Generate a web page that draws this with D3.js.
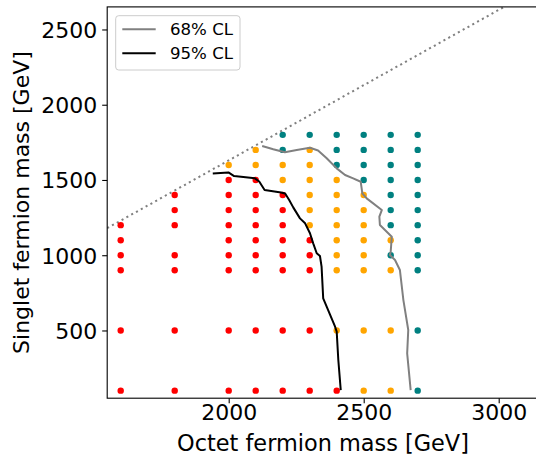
<!DOCTYPE html>
<html>
<head>
<meta charset="utf-8">
<script src="https://cdn.jsdelivr.net/npm/d3@7"></script>
<style>
  html, body { margin: 0; padding: 0; background: #fff; }
  svg { display: block; font-family: "DejaVu Sans", sans-serif; }
</style>
</head>
<body>
<svg id="chart" width="536" height="457"></svg>
<script>
// Scan grid: octet masses (columns) and singlet masses (rows), in GeV
const octetMasses = [1600, 1800, 2000, 2100, 2200, 2300, 2400, 2500, 2600, 2700];
const singletMasses = [100, 500, 900, 1000, 1100, 1200, 1300, 1400, 1500, 1600, 1700, 1800];

// Status of each scan point, one string per octet column, one character per singlet row
// R = excluded at 95% CL, O = excluded at 68% CL, A = allowed, . = not simulated
const pointStatus = [
  "RRRRRR......", // 1600
  "RRRR.RRR....", // 1800
  "RRRRRRRRRO..", // 2000
  "RRRRRRRRROO.", // 2100
  "RRRRRRRROOAA", // 2200
  "RRRRROOOOOOA", // 2300
  "ROOOOOOOOAAA", // 2400
  "OOOOOOOOAAAA", // 2500
  "OOOAOAAAAAAA", // 2600
  "AAAAAAAAAAAA"  // 2700
];
const statusColors = { R: "red", O: "orange", A: "teal" };

// Exclusion contours [octet, singlet]
const contour68 = [
  [2124, 1726], [2165, 1704], [2208, 1684], [2252, 1699], [2301, 1714], [2331, 1696],
  [2363, 1644], [2400, 1577], [2431, 1533], [2461, 1511], [2489, 1488], [2495, 1411],
  [2511, 1378], [2567, 1300], [2558, 1256], [2560, 1201], [2604, 1123], [2600, 1023],
  [2597, 1001], [2616, 968], [2634, 902], [2647, 702], [2665, 503], [2661, 348], [2674, 104]
];
const contour95 = [
  [1941, 1543], [1999, 1550], [2020, 1526], [2097, 1511], [2113, 1490], [2133, 1433],
  [2194, 1417], [2209, 1410], [2224, 1367], [2239, 1318], [2264, 1245], [2283, 1212],
  [2301, 1146], [2313, 1079], [2326, 1013], [2338, 995], [2344, 924], [2350, 714],
  [2394, 525], [2400, 492], [2406, 304], [2415, 104]
];

// Kinematic boundary: singlet = octet - massGap
const massGap = 370;

const xTicks = [2000, 2500, 3000];
const yTicks = [500, 1000, 1500, 2000, 2500];
const xDomain = [1550, 3150];
const yDomain = [50, 2650];

const legendEntries = [
  { label: "68% CL", color: "gray" },
  { label: "95% CL", color: "black" }
];

const svg = d3.select("#chart");
const plot = { left: 107.2, right: 539.2, top: 6.9, bottom: 398.2 };

const x = d3.scaleLinear().domain(xDomain).range([plot.left, plot.right]);
const y = d3.scaleLinear().domain(yDomain).range([plot.bottom, plot.top]);

svg.append("defs").append("clipPath").attr("id", "plot-clip")
  .append("rect")
  .attr("x", plot.left).attr("y", plot.top)
  .attr("width", plot.right - plot.left).attr("height", plot.bottom - plot.top);

const body = svg.append("g").attr("clip-path", "url(#plot-clip)");

// Dotted boundary line
body.append("line")
  .attr("x1", x(xDomain[0])).attr("y1", y(xDomain[0] - massGap))
  .attr("x2", x(xDomain[1])).attr("y2", y(xDomain[1] - massGap))
  .attr("stroke", "gray")
  .attr("stroke-width", 2)
  .attr("stroke-dasharray", "2.1,3.4");

// Scan points
const points = [];
octetMasses.forEach((m8, i) => {
  singletMasses.forEach((m1, j) => {
    const s = pointStatus[i][j];
    if (s !== ".") points.push({ octet: m8, singlet: m1, status: s });
  });
});

body.selectAll("circle.pt")
  .data(points)
  .enter().append("circle")
  .attr("class", "pt")
  .attr("cx", d => x(d.octet))
  .attr("cy", d => y(d.singlet))
  .attr("r", 3.2)
  .attr("fill", d => statusColors[d.status]);

// Contours
const line = d3.line().x(d => x(d[0])).y(d => y(d[1]));
body.append("path").datum(contour68)
  .attr("d", line).attr("fill", "none")
  .attr("stroke", "gray").attr("stroke-width", 2).attr("stroke-linejoin", "round");
body.append("path").datum(contour95)
  .attr("d", line).attr("fill", "none")
  .attr("stroke", "black").attr("stroke-width", 2).attr("stroke-linejoin", "round");

// Axes frame
svg.append("rect")
  .attr("x", plot.left).attr("y", plot.top)
  .attr("width", plot.right - plot.left).attr("height", plot.bottom - plot.top)
  .attr("fill", "none").attr("stroke", "black").attr("stroke-width", 1.1);

const xAxis = svg.append("g")
  .attr("transform", `translate(0,${plot.bottom})`)
  .call(d3.axisBottom(x).tickValues(xTicks).tickFormat(d3.format("d")).tickSize(5).tickSizeOuter(0));
xAxis.select(".domain").remove();
xAxis.selectAll("line").attr("stroke", "black").attr("stroke-width", 1.1);
xAxis.selectAll("text")
  .attr("y", 22).attr("dy", 0)
  .attr("font-size", 22).attr("font-family", "DejaVu Sans").attr("fill", "black");

const yAxis = svg.append("g")
  .attr("transform", `translate(${plot.left},0)`)
  .call(d3.axisLeft(y).tickValues(yTicks).tickFormat(d3.format("d")).tickSize(5).tickSizeOuter(0));
yAxis.select(".domain").remove();
yAxis.selectAll("line").attr("stroke", "black").attr("stroke-width", 1.1);
yAxis.selectAll("text")
  .attr("x", -10).attr("dy", "0.36em")
  .attr("font-size", 22).attr("font-family", "DejaVu Sans").attr("fill", "black");

// Axis labels
svg.append("text")
  .attr("x", 323)
  .attr("y", 451)
  .attr("text-anchor", "middle")
  .attr("font-size", 22.4)
  .text("Octet fermion mass [GeV]");

svg.append("text")
  .attr("transform", `translate(29,${(plot.top + plot.bottom) / 2}) rotate(-90)`)
  .attr("text-anchor", "middle")
  .attr("font-size", 22)
  .text("Singlet fermion mass [GeV]");

// Legend
const legend = svg.append("g");
legend.append("rect")
  .attr("x", 115.7).attr("y", 15.7)
  .attr("width", 124.3).attr("height", 54.3)
  .attr("rx", 3)
  .attr("fill", "white").attr("fill-opacity", 0.8)
  .attr("stroke", "#cccccc").attr("stroke-width", 1);

legendEntries.forEach((e, i) => {
  const ly = 29.3 + i * 24;
  legend.append("line")
    .attr("x1", 122.3).attr("x2", 155.7)
    .attr("y1", ly).attr("y2", ly)
    .attr("stroke", e.color).attr("stroke-width", 2);
  legend.append("text")
    .attr("x", 170).attr("y", ly + 6)
    .attr("font-size", 16.6)
    .text(e.label);
});
</script>
</body>
</html>
